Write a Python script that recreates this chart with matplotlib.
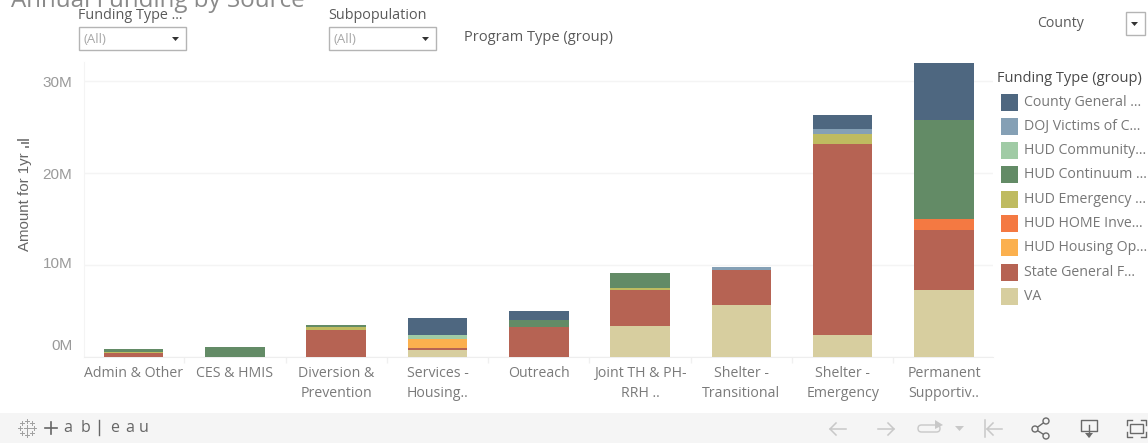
import matplotlib
matplotlib.use('Agg')
import matplotlib.pyplot as plt
from matplotlib.patches import Rectangle, Polygon, Circle, FancyBboxPatch
from matplotlib.transforms import ScaledTranslation

W, H = 1148, 443
plt.rcParams['font.family'] = ['Open Sans', 'DejaVu Sans']

categories = ['Admin & Other', 'CES & HMIS', 'Diversion &\nPrevention', 'Services -\nHousing..',
              'Outreach', 'Joint TH & PH-\nRRH ..', 'Shelter -\nTransitional', 'Shelter -\nEmergency',
              'Permanent\nSupportiv..']

# values in millions, bottom of the stack first
va = [0, 0, 0, 0.73, 0, 3.38, 5.64, 2.36, 7.24]
state_general = [0.36, 0, 2.84, 0.15, 3.27, 3.89, 3.82, 20.76, 6.51]
hud_hopwa = [0, 0, 0, 0.98, 0, 0, 0, 0, 0]
hud_home = [0, 0, 0, 0, 0, 0, 0, 0, 1.20]
hud_emergency = [0.10, 0, 0.33, 0, 0, 0.25, 0, 1.09, 0]
hud_coc = [0.40, 1.02, 0.25, 0, 0.76, 1.60, 0, 0, 10.87]
hud_community = [0, 0, 0, 0.47, 0, 0, 0, 0, 0]
doj_victims = [0, 0, 0, 0, 0, 0, 0.29, 0.58, 0]
county_general = [0, 0, 0, 1.89, 0.98, 0, 0, 1.56, 6.24]

stack = [(va, '#d7ce9f'), (state_general, '#b66353'), (hud_hopwa, '#fbb04e'), (hud_home, '#f47942'),
         (hud_emergency, '#bfbb60'), (hud_coc, '#638b66'), (hud_community, '#a0cba5'),
         (doj_victims, '#85a0b5'), (county_general, '#4e6780')]

legend_labels = ['County General ...', 'DOJ Victims of C...', 'HUD Community...', 'HUD Continuum ...',
                 'HUD Emergency ...', 'HUD HOME Inve...', 'HUD Housing Op...', 'State General F...', 'VA']
legend_colors = ['#4e6780', '#85a0b5', '#a0cba5', '#638b66', '#bfbb60', '#f47942', '#fbb04e', '#b66353', '#d7ce9f']

y_ticks = [0, 10, 20, 30]
y_tick_labels = ['0M', '10M', '20M', '30M']
# tableau nudges the lower labels up so they stay inside the pane
y_label_shift = [11.5, 2.5, 0, 0]

fig = plt.figure(figsize=(W / 100, H / 100), dpi=100, facecolor='white')

# chart area, pixel box from the reference
left, right, top, bottom = 83.5, 993, 62, 356.5
ax = fig.add_axes([left / W, 1 - bottom / H, (right - left) / W, (bottom - top) / H])
ax.set_xlim(-0.494, 8.483)
ax.set_ylim(0, (bottom - top) / 9.17)

x = list(range(len(categories)))
base = [0] * len(categories)
for vals, col in stack:
    ax.bar(x, vals, bottom=base, width=0.587, color=col, linewidth=0, zorder=3)
    base = [b + v for b, v in zip(base, vals)]

ax.set_yticks(y_ticks)
ax.set_yticklabels(y_tick_labels, fontsize=11, color='#9a9a9a', family='Liberation Sans')
ax.set_xticks(x)
ax.set_xticklabels(categories, fontsize=10.2, color='#7a7a7a', linespacing=1.42, va='top')
ax.set_xticks([i + 0.5 for i in x[:-1]], minor=True)
ax.tick_params(axis='x', which='major', length=0, pad=7)
ax.tick_params(axis='x', which='minor', length=4, color='#f0f0f0', width=1)
ax.tick_params(axis='y', length=0, pad=8)
# has to come after tick_params, which resets the label transforms
for lab, shift in zip(ax.get_yticklabels(), y_label_shift):
    lab.set_transform(lab.get_transform() + ScaledTranslation(0, shift / 100, fig.dpi_scale_trans))
ax.grid(axis='y', color='#f4f4f4', linewidth=1, zorder=0)
for s in ['top', 'right']:
    ax.spines[s].set_visible(False)
ax.spines['left'].set_color('#f4f4f4')
ax.spines['bottom'].set_color('#eeeeee')

# everything around the chart goes on an overlay in pixel coordinates
ui = fig.add_axes([0, 0, 1, 1], zorder=5)
ui.set_xlim(0, W)
ui.set_ylim(H, 0)
ui.axis('off')
ui.patch.set_alpha(0)

ui.text(11, 7, 'Annual Funding by Source', fontsize=17.4, color='#8a8a8a', va='baseline', ha='left')
ui.text(25, 202, 'Amount for 1yr', fontsize=10.8, color='#666666', rotation=90, ha='center', va='center',
        family='Liberation Sans')
for by, blen in [(138.5, 12), (142, 8), (146, 4)]:
    ui.add_patch(Rectangle((29 - blen, by), blen, 2, color='#888888', lw=0))


def dropdown(x0, x1, y0, y1, label=None):
    ui.add_patch(Rectangle((x0, y0), x1 - x0, y1 - y0, fc='white', ec='#b4b4b4', lw=1))
    if label:
        ui.text(x0 + 5, (y0 + y1) / 2 + 0.5, label, fontsize=9.5, color='#a8a8a8', va='center')
    ax_c = x1 - 10.5
    ay = (y0 + y1) / 2
    ui.add_patch(Polygon([(ax_c - 3.5, ay - 1.5), (ax_c + 3.5, ay - 1.5), (ax_c, ay + 2.5)], color='#333333', lw=0))


ui.text(78, 15, 'Funding Type ...', fontsize=10.4, color='#5a5a5a', va='center')
dropdown(79, 186, 27, 50, '(All)')
ui.text(328, 15, 'Subpopulation', fontsize=10.4, color='#5a5a5a', va='center')
dropdown(329, 436, 27, 50, '(All)')
ui.text(464, 37, 'Program Type (group)', fontsize=10.5, color='#5a5a5a', va='center')
ui.text(1037, 23, 'County', fontsize=10.2, color='#5a5a5a', va='center')
dropdown(1126, 1145, 12, 35)

# legend
ui.text(997, 78, 'Funding Type (group)', fontsize=10.5, color='#4a4a4a', va='center')
for i, (lab, col) in enumerate(zip(legend_labels, legend_colors)):
    yy = 93.5 + i * 24.3
    ui.add_patch(Rectangle((1000.5, yy), 17, 17, color=col, lw=0))
    ui.text(1024, yy + 8.5, lab, fontsize=10.2, color='#777777', va='center')

# tableau toolbar
ui.add_patch(Rectangle((0, 413), W, 30, color='#f5f5f5', lw=0))
gray = '#a0a0a0'
for dx, dy, r in [(27, 428, 3.5), (20, 428, 2), (34, 428, 2), (27, 421, 2), (27, 435, 2),
                  (22, 423, 1.8), (32, 423, 1.8), (22, 433, 1.8), (32, 433, 1.8)]:
    ui.plot([dx - r, dx + r], [dy, dy], color=gray, lw=0.7)
    ui.plot([dx, dx], [dy - r, dy + r], color=gray, lw=0.7)
ui.plot([45, 57], [428, 428], color='#666666', lw=1.2)
ui.plot([51, 51], [422, 434], color='#666666', lw=1.2)
ui.plot([99, 99], [420, 435], color='#666666', lw=1)
for tx, ch in [(68, 'a'), (85, 'b'), (115, 'e'), (130, 'a'), (144, 'u')]:
    ui.text(tx, 428, ch, fontsize=11.5, color='#666666', ha='center', va='center')

icon = '#c8c8c8'
dark = '#6a6a6a'
# back and forward
ui.plot([846, 830, 836], [429, 429, 423], color=icon, lw=1.1)
ui.plot([830, 836], [429, 435], color=icon, lw=1.1)
ui.plot([878, 894, 888], [429, 429, 423], color=icon, lw=1.1)
ui.plot([894, 888], [429, 435], color=icon, lw=1.1)
# redo loop and its menu
ui.add_patch(FancyBboxPatch((918, 425), 22, 7, boxstyle='round,pad=0,rounding_size=3.5', fc='none', ec=icon, lw=1))
ui.add_patch(Polygon([(935, 420), (943, 425), (935, 429)], color=icon, lw=0))
ui.add_patch(Polygon([(955, 426), (964, 426), (959.5, 431)], color=icon, lw=0))
# reset
ui.plot([985, 985], [420, 437], color=icon, lw=1.1)
ui.plot([1002, 987, 993], [429, 429, 423], color=icon, lw=1.1)
ui.plot([987, 993], [429, 435], color=icon, lw=1.1)
# share
ui.plot([1046, 1035, 1046], [421, 429, 436], color=dark, lw=1)
for cx, cy in [(1046, 421), (1035, 429), (1046, 436)]:
    ui.add_patch(Circle((cx, cy), 3, fc='#f5f5f5', ec=dark, lw=1, zorder=4))
# download
ui.plot([1088, 1081, 1081, 1097, 1097, 1090], [431, 431, 420, 420, 431, 431], color=dark, lw=1)
ui.plot([1089, 1089], [425, 436], color=dark, lw=1)
ui.add_patch(Polygon([(1085, 433), (1093, 433), (1089, 438)], color=dark, lw=0))
# fullscreen
ui.add_patch(Rectangle((1130, 424), 13, 9, fc='none', ec=dark, lw=1))
ui.plot([1127, 1127, 1132], [425, 420, 420], color=dark, lw=1)
ui.plot([1127, 1127, 1132], [432, 437, 437], color=dark, lw=1)
ui.plot([1141, 1146, 1146], [420, 420, 425], color=dark, lw=1)
ui.plot([1141, 1146, 1146], [437, 437, 432], color=dark, lw=1)

fig.savefig('out.png', dpi=100)
